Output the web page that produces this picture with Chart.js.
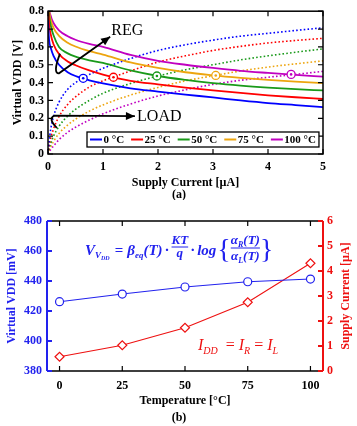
<!DOCTYPE html>
<html>
<head>
<meta charset="utf-8">
<script src="https://cdn.jsdelivr.net/npm/chart.js@4/dist/chart.umd.min.js"></script>
<style>
html, body { margin: 0; padding: 0; background: #fff; }
canvas { display: block; }
</style>
</head>
<body>
<canvas id="regChart" width="357" height="200" style="width:357px;height:200px"></canvas>
<canvas id="tempChart" width="357" height="226" style="width:357px;height:226px"></canvas>
<script>
// ---- (a) supply current vs virtual VDD ----
const currents = [0, 0.02, 0.05, 0.1, 0.2, 0.35, 0.5, 0.75, 1, 1.5, 2, 2.5, 3, 3.5, 4, 4.5, 5];
const tempLabels = ['0 °C', '25 °C', '50 °C', '75 °C', '100 °C'];
const tempColors = ['#0000ff', '#ff0000', '#1a9a1a', '#eda50f', '#c000c0'];

// regulator curves (solid)
const reg0   = [0.75, 0.64, 0.595, 0.55, 0.50, 0.46, 0.437, 0.413, 0.395, 0.368, 0.35, 0.333, 0.317, 0.30, 0.285, 0.274, 0.263];
const reg25  = [0.85, 0.73, 0.67, 0.615, 0.56, 0.52, 0.497, 0.468, 0.445, 0.41, 0.39, 0.372, 0.356, 0.342, 0.329, 0.318, 0.308];
const reg50  = [0.90, 0.78, 0.72, 0.665, 0.60, 0.565, 0.545, 0.525, 0.51, 0.468, 0.437, 0.415, 0.397, 0.383, 0.372, 0.363, 0.356];
const reg75  = [0.95, 0.81, 0.752, 0.707, 0.662, 0.625, 0.602, 0.576, 0.557, 0.513, 0.482, 0.458, 0.441, 0.427, 0.415, 0.405, 0.397];
const reg100 = [1.00, 0.827, 0.774, 0.734, 0.693, 0.661, 0.64, 0.617, 0.60, 0.555, 0.522, 0.50, 0.482, 0.466, 0.454, 0.443, 0.433];

// load curves (dotted)
const load0   = [0, 0.07, 0.14, 0.21, 0.29, 0.36, 0.40, 0.445, 0.48, 0.535, 0.58, 0.612, 0.638, 0.66, 0.676, 0.692, 0.707];
const load25  = [0, 0.045, 0.09, 0.14, 0.21, 0.275, 0.32, 0.375, 0.41, 0.465, 0.515, 0.55, 0.58, 0.603, 0.622, 0.636, 0.648];
const load50  = [0, 0.03, 0.06, 0.10, 0.155, 0.21, 0.25, 0.30, 0.34, 0.395, 0.437, 0.472, 0.50, 0.527, 0.55, 0.57, 0.589];
const load75  = [0, 0.02, 0.04, 0.07, 0.115, 0.16, 0.195, 0.24, 0.275, 0.33, 0.373, 0.41, 0.438, 0.465, 0.487, 0.505, 0.522];
const load100 = [0, 0.012, 0.025, 0.045, 0.08, 0.12, 0.15, 0.19, 0.225, 0.28, 0.325, 0.36, 0.39, 0.413, 0.43, 0.446, 0.463];

const regCurves = [reg0, reg25, reg50, reg75, reg100];
const loadCurves = [load0, load25, load50, load75, load100];

// operating points (crossings)
const crossI = [0.64, 1.19, 1.98, 3.05, 4.42];
const crossV = [0.424, 0.43, 0.437, 0.44, 0.446];

// ---- (b) temperature sweep ----
const temperatures = [0, 25, 50, 75, 100];
const tempTicks = [0, 25, 50, 75, 100];
const vddMv = [426.2, 431.3, 436.0, 439.5, 441.3];
const supplyUa = [0.57, 1.03, 1.73, 2.75, 4.31];

const serif = "'Liberation Serif', 'Times New Roman', serif";
const blueB = '#2222ee';
const redB = '#ee1111';

function txt(ctx, s, font, x, y, align) {
    ctx.font = font;
    ctx.textAlign = align || 'left';
    ctx.fillText(s, x, y);
    return ctx.measureText(s).width;
}
function arrowHead(ctx, x0, y0, x1, y1, len, wid) {
    const a = Math.atan2(y1 - y0, x1 - x0);
    ctx.beginPath();
    ctx.moveTo(x1, y1);
    ctx.lineTo(x1 - len * Math.cos(a) + wid * Math.sin(a), y1 - len * Math.sin(a) - wid * Math.cos(a));
    ctx.lineTo(x1 - len * Math.cos(a) - wid * Math.sin(a), y1 - len * Math.sin(a) + wid * Math.cos(a));
    ctx.closePath();
    ctx.fill();
}

const topDeco = {
    id: 'topDeco',
    afterDatasetsDraw(chart) {
        const { ctx, chartArea: a, scales: { x, y } } = chart;
        const P = (i, v) => [x.getPixelForValue(i), y.getPixelForValue(v)];
        ctx.save();
        // frame + inward ticks
        ctx.strokeStyle = '#000';
        ctx.lineWidth = 1.5;
        ctx.strokeRect(a.left, a.top, a.right - a.left, a.bottom - a.top);
        ctx.lineWidth = 1.2;
        ctx.beginPath();
        x.ticks.forEach(t => {
            const px = x.getPixelForValue(t.value);
            ctx.moveTo(px, a.bottom); ctx.lineTo(px, a.bottom - 5);
            ctx.moveTo(px, a.top); ctx.lineTo(px, a.top + 5);
        });
        y.ticks.forEach(t => {
            const py = y.getPixelForValue(t.value);
            ctx.moveTo(a.left, py); ctx.lineTo(a.left + 5, py);
            ctx.moveTo(a.right, py); ctx.lineTo(a.right - 5, py);
        });
        ctx.stroke();

        // REG arrow
        ctx.fillStyle = '#000';
        ctx.lineWidth = 1.8;
        let p1 = P(0.218, 0.562), c1 = P(0.08, 0.45), p2 = P(0.2, 0.452), tip = P(1.13, 0.657);
        ctx.beginPath();
        ctx.moveTo(p1[0], p1[1]);
        ctx.quadraticCurveTo(c1[0], c1[1], p2[0], p2[1]);
        ctx.lineTo(tip[0], tip[1]);
        ctx.stroke();
        arrowHead(ctx, p2[0], p2[1], tip[0], tip[1], 9, 4);
        ctx.textBaseline = 'middle';
        const reg = P(1.15, 0.693);
        txt(ctx, 'REG', `16px ${serif}`, reg[0], reg[1]);

        // LOAD arrow
        p1 = P(0.16, 0.147); c1 = P(-0.01, 0.2); p2 = P(0.12, 0.215); tip = P(1.58, 0.212);
        ctx.beginPath();
        ctx.moveTo(p1[0], p1[1]);
        ctx.quadraticCurveTo(c1[0], c1[1], p2[0], p2[1]);
        ctx.lineTo(tip[0], tip[1]);
        ctx.stroke();
        arrowHead(ctx, p2[0], p2[1], tip[0], tip[1], 9, 4);
        const ld = P(1.62, 0.209);
        txt(ctx, 'LOAD', `16px ${serif}`, ld[0], ld[1]);

        // legend box
        const lf = `bold 11px ${serif}`;
        ctx.font = lf;
        const bx = 87, by = 132, bh = 15;
        let cx = bx + 3;
        const items = tempLabels.map((l, i) => {
            const it = { x: cx, l, c: tempColors[i] };
            cx += 12 + 1.5 + ctx.measureText(l).width + 7;
            return it;
        });
        const bw = cx - 7 + 3 - bx;
        ctx.fillStyle = '#fff';
        ctx.fillRect(bx, by, bw, bh);
        ctx.lineWidth = 1.3;
        ctx.strokeStyle = '#000';
        ctx.strokeRect(bx, by, bw, bh);
        items.forEach(it => {
            ctx.strokeStyle = it.c;
            ctx.lineWidth = 2;
            ctx.beginPath();
            ctx.moveTo(it.x, by + bh / 2); ctx.lineTo(it.x + 12, by + bh / 2);
            ctx.stroke();
            ctx.fillStyle = '#000';
            txt(ctx, it.l, lf, it.x + 13.5, by + bh / 2 + 0.5);
        });

        // subfigure label
        ctx.fillStyle = '#000';
        txt(ctx, '(a)', `bold 12px ${serif}`, 179, 195, 'center');
        ctx.restore();
    }
};

const topSets = [
    {
        data: crossI.map((v, i) => ({ x: v, y: crossV[i] })),
        showLine: false, pointRadius: 1.3, pointBorderWidth: 0,
        pointBackgroundColor: tempColors, borderColor: 'transparent'
    },
    {
        data: crossI.map((v, i) => ({ x: v, y: crossV[i] })),
        showLine: false, pointRadius: 4, pointBorderWidth: 1.3,
        pointBackgroundColor: '#fff', pointBorderColor: tempColors, borderColor: 'transparent'
    }
];
regCurves.forEach((c, i) => topSets.push({
    label: tempLabels[i],
    data: currents.map((v, k) => ({ x: v, y: c[k] })),
    borderColor: tempColors[i], borderWidth: 1.8, pointRadius: 0,
    cubicInterpolationMode: 'monotone'
}));
loadCurves.forEach((c, i) => topSets.push({
    data: currents.map((v, k) => ({ x: v, y: c[k] })),
    borderColor: tempColors[i], borderWidth: 1.6, borderDash: [1.6, 2.2], pointRadius: 0,
    cubicInterpolationMode: 'monotone'
}));

const tickFont = { family: serif, size: 12, weight: 'bold' };

new Chart(document.getElementById('regChart'), {
    type: 'line',
    data: { datasets: topSets },
    options: {
        responsive: false,
        animation: false,
        layout: { padding: { top: 5, right: 34, left: 0, bottom: 0 } },
        plugins: { legend: { display: false }, tooltip: { enabled: false } },
        scales: {
            x: {
                type: 'linear', min: 0, max: 5,
                ticks: { stepSize: 1, padding: 6, color: '#000', font: tickFont },
                grid: { display: false, drawTicks: false },
                border: { display: false },
                title: { display: true, text: 'Supply Current [µA]', color: '#000', font: tickFont, padding: { top: 0, bottom: 10 } },
                afterFit: s => { s.height = 46; }
            },
            y: {
                min: 0, max: 0.8,
                ticks: { stepSize: 0.1, padding: 4, color: '#000', font: tickFont },
                grid: { display: false, drawTicks: false },
                border: { display: false },
                title: { display: true, text: 'Virtual VDD [V]', color: '#000', font: tickFont, padding: { top: 11, bottom: 0 } },
                afterFit: s => { s.width = 48; }
            }
        }
    },
    plugins: [topDeco]
});

const bottomDeco = {
    id: 'bottomDeco',
    afterDatasetsDraw(chart) {
        const { ctx, chartArea: a, scales: { x, y, y1 } } = chart;
        ctx.save();
        // frame
        ctx.lineWidth = 1.5;
        ctx.strokeStyle = '#000';
        ctx.beginPath();
        ctx.moveTo(a.left, a.top); ctx.lineTo(a.right, a.top);
        ctx.moveTo(a.left, a.bottom); ctx.lineTo(a.right, a.bottom);
        ctx.stroke();
        ctx.lineWidth = 1.2;
        ctx.beginPath();
        x.ticks.forEach(t => {
            const px = x.getPixelForValue(t.value);
            ctx.moveTo(px, a.bottom); ctx.lineTo(px, a.bottom - 5);
            ctx.moveTo(px, a.top); ctx.lineTo(px, a.top + 5);
        });
        ctx.stroke();
        ctx.strokeStyle = blueB;
        ctx.lineWidth = 2;
        ctx.beginPath();
        ctx.moveTo(a.left, a.top); ctx.lineTo(a.left, a.bottom);
        y.ticks.forEach(t => {
            const py = y.getPixelForValue(t.value);
            ctx.moveTo(a.left, py); ctx.lineTo(a.left + 5, py);
        });
        ctx.stroke();
        ctx.strokeStyle = redB;
        ctx.beginPath();
        ctx.moveTo(a.right, a.top); ctx.lineTo(a.right, a.bottom);
        y1.ticks.forEach(t => {
            const py = y1.getPixelForValue(t.value);
            ctx.moveTo(a.right, py); ctx.lineTo(a.right - 5, py);
        });
        ctx.stroke();

        // right axis title, reading upward
        ctx.fillStyle = redB;
        ctx.textBaseline = 'middle';
        ctx.save();
        ctx.translate(346, (a.top + a.bottom) / 2);
        ctx.rotate(-Math.PI / 2);
        txt(ctx, 'Supply Current [µA]', `bold 12px ${serif}`, 0, 0, 'center');
        ctx.restore();

        // equation
        ctx.textBaseline = 'alphabetic';
        ctx.fillStyle = blueB;
        ctx.strokeStyle = blueB;
        const it = s => `italic bold ${s}px ${serif}`;
        const up = s => `bold ${s}px ${serif}`;
        const B = 55;
        let cx = 85;
        cx += txt(ctx, 'V', it(15), cx, B);
        cx += txt(ctx, 'V', it(9), cx, B + 3);
        cx += txt(ctx, 'DD', it(6), cx, B + 5);
        cx += 5;
        cx += txt(ctx, '=', up(15), cx, B);
        cx += 4;
        cx += txt(ctx, 'β', it(15), cx, B);
        cx += txt(ctx, 'eq', it(9), cx, B + 3);
        cx += txt(ctx, '(T)', it(15), cx, B);
        cx += 2;
        cx += txt(ctx, '·', up(15), cx, B);
        cx += 2;
        ctx.font = it(13);
        const wK = ctx.measureText('KT').width;
        txt(ctx, 'KT', it(13), cx + wK / 2, 44, 'center');
        txt(ctx, 'q', it(13), cx + wK / 2, 57, 'center');
        ctx.lineWidth = 1;
        ctx.beginPath(); ctx.moveTo(cx, 47); ctx.lineTo(cx + wK, 47); ctx.stroke();
        cx += wK + 2;
        cx += txt(ctx, '·', up(15), cx, B);
        cx += 2;
        cx += txt(ctx, 'log', it(15), cx, B);
        cx += 1;
        cx += txt(ctx, '{', `28px ${serif}`, cx, 58);
        const part = (sub, y0, draw) => {
            let w = 0;
            ctx.font = it(13); w += ctx.measureText('α').width;
            ctx.font = it(8); w += ctx.measureText(sub).width;
            ctx.font = it(13); w += ctx.measureText('(T)').width;
            if (draw) {
                let px = draw;
                px += txt(ctx, 'α', it(13), px, y0);
                px += txt(ctx, sub, it(8), px, y0 + 3);
                txt(ctx, '(T)', it(13), px, y0);
            }
            return w;
        };
        const wF = Math.max(part('R'), part('L'));
        part('R', 44, cx + (wF - part('R')) / 2);
        part('L', 60, cx + (wF - part('L')) / 2);
        ctx.beginPath(); ctx.moveTo(cx, 48); ctx.lineTo(cx + wF, 48); ctx.stroke();
        cx += wF;
        txt(ctx, '}', `28px ${serif}`, cx, 58);

        // current relation
        ctx.fillStyle = redB;
        const ri = s => `italic ${s}px ${serif}`;
        let rx = 198;
        const RB = 150;
        rx += txt(ctx, 'I', ri(16), rx, RB);
        rx += txt(ctx, 'DD', ri(10), rx, RB + 4);
        rx += 8;
        rx += txt(ctx, '=', `16px ${serif}`, rx, RB);
        rx += 4;
        rx += txt(ctx, 'I', ri(16), rx, RB);
        rx += txt(ctx, 'R', ri(10), rx, RB + 4);
        rx += 4;
        rx += txt(ctx, '=', `16px ${serif}`, rx, RB);
        rx += 4;
        rx += txt(ctx, 'I', ri(16), rx, RB);
        txt(ctx, 'L', ri(10), rx, RB + 4);

        ctx.fillStyle = '#000';
        txt(ctx, '(b)', `bold 12px ${serif}`, 179, 221, 'center');
        ctx.restore();
    }
};

new Chart(document.getElementById('tempChart'), {
    type: 'line',
    data: {
        datasets: [
            {
                data: temperatures.map((t, i) => ({ x: t, y: vddMv[i] })),
                yAxisID: 'y',
                borderColor: blueB, borderWidth: 1.1,
                pointStyle: 'circle', pointRadius: 4, pointBorderWidth: 1.2,
                pointBackgroundColor: '#fff', pointBorderColor: blueB
            },
            {
                data: temperatures.map((t, i) => ({ x: t, y: supplyUa[i] })),
                yAxisID: 'y1',
                borderColor: redB, borderWidth: 1.1,
                pointStyle: 'rectRot', pointRadius: 4.5, pointBorderWidth: 1.2,
                pointBackgroundColor: '#fff', pointBorderColor: redB
            }
        ]
    },
    options: {
        responsive: false,
        animation: false,
        layout: { padding: { top: 21, right: 0, left: 0, bottom: 0 } },
        plugins: { legend: { display: false }, tooltip: { enabled: false } },
        scales: {
            x: {
                type: 'linear', min: -5, max: 105,
                afterBuildTicks: s => { s.ticks = tempTicks.map(v => ({ value: v })); },
                ticks: { padding: 8, color: '#000', font: tickFont },
                grid: { display: false, drawTicks: false },
                border: { display: false },
                title: { display: true, text: 'Temperature [°C]', color: '#000', font: tickFont, padding: { top: 0, bottom: 18 } },
                afterFit: s => { s.height = 55; }
            },
            y: {
                position: 'left', min: 380, max: 480,
                ticks: { stepSize: 20, padding: 5, color: blueB, font: tickFont },
                grid: { display: false, drawTicks: false },
                border: { display: false },
                title: { display: true, text: 'Virtual VDD [mV]', color: blueB, font: tickFont, padding: { top: 5, bottom: 0 } },
                afterFit: s => { s.width = 47; }
            },
            y1: {
                position: 'right', min: 0, max: 6,
                ticks: { stepSize: 1, padding: 4, color: redB, font: tickFont },
                grid: { display: false, drawTicks: false },
                border: { display: false },
                afterFit: s => { s.width = 34; }
            }
        }
    },
    plugins: [bottomDeco]
});
</script>
</body>
</html>
